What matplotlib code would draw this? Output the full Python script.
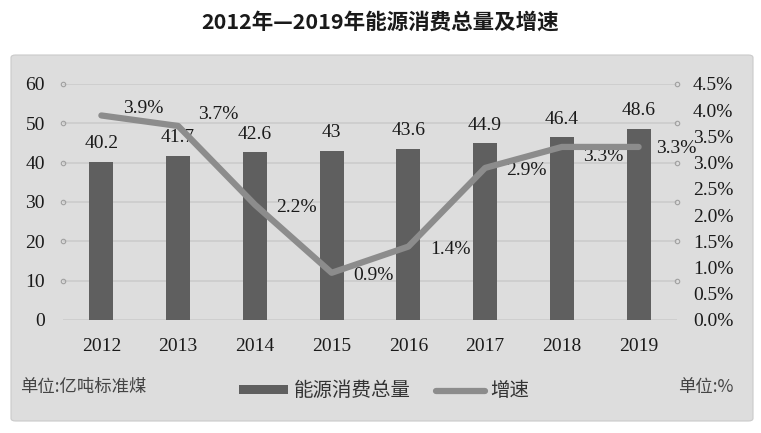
import matplotlib
matplotlib.use('Agg')
import matplotlib.pyplot as plt
from matplotlib.patches import FancyBboxPatch, Patch
from matplotlib.lines import Line2D
import numpy as np

plt.rcParams['font.family'] = ['Liberation Serif', 'Noto Sans CJK SC', 'DejaVu Sans']

# Data
years = ['2012', '2013', '2014', '2015', '2016', '2017', '2018', '2019']
consumption = [40.2, 41.7, 42.6, 43, 43.6, 44.9, 46.4, 48.6]      # 亿吨标准煤
growth = [3.9, 3.7, 2.2, 0.9, 1.4, 2.9, 3.3, 3.3]                 # %
bar_texts = ['40.2', '41.7', '42.6', '43', '43.6', '44.9', '46.4', '48.6']

# label offsets for growth labels (points)
growth_offsets = [(30, 5), (29, 8), (30, -2), (30, -2), (30, -2), (30, -2), (30, -7), (27, -1)]

bar_color = '#5f5f5f'
line_color = '#8c8c8c'
text_color = '#1a1a1a'
cjk = ['Noto Sans CJK SC', 'DejaVu Sans']

fig = plt.figure(figsize=(7.61, 4.33), dpi=100)
fig.patch.set_facecolor('white')

# gray panel
panel = FancyBboxPatch((11/761, 12/433), (753-11)/761, (421-55)/433,
                       boxstyle='round,pad=0,rounding_size=0.006',
                       transform=fig.transFigure, facecolor='#dddddd',
                       edgecolor='#cacaca', linewidth=0.8, zorder=-5)
fig.patches.append(panel)

fig.text(0.5, 1 - 22/433, '2012年—2019年能源消费总量及增速', ha='center', va='center',
         fontsize=15.5, fontweight='bold', family=cjk, color=text_color)

ax = fig.add_axes([63/761, (433-320)/433, (677-63)/761, (320-84)/433])
ax.set_facecolor('none')
x = np.arange(len(years))

bars = ax.bar(x, consumption, width=0.31, color=bar_color, zorder=3)
ax.bar_label(bars, labels=bar_texts, padding=7, fontsize=14, color=text_color)

ax.set_xlim(-0.5, len(years) - 0.5)
ax.set_ylim(0, 60)
ax.set_yticks(np.arange(0, 61, 10))
ax.set_xticks(x)
ax.set_xticklabels(years)
ax.grid(axis='y', color='#cdcdcd', linewidth=1.3, zorder=1)
ax.set_axisbelow(True)
for s in ax.spines.values():
    s.set_visible(False)
ax.tick_params(axis='y', length=0, pad=13, labelsize=14, labelcolor=text_color)
ax.tick_params(axis='x', length=0, pad=13, labelsize=14, labelcolor=text_color)

# small open circles at both ends of gridlines
ring_y = ax.get_yticks()[1:]
for xe in (0, 1):
    ax.plot([xe] * len(ring_y), ring_y, 'o', ms=3.2, mfc='none', mec='#a0a0a0', mew=0.8,
            transform=ax.get_yaxis_transform(), clip_on=False, zorder=2)

ax2 = ax.twinx()
ax2.set_ylim(0, 4.5)
ax2.set_yticks(np.arange(0, 4.51, 0.5))
ax2.set_yticklabels(['%.1f%%' % v for v in np.arange(0, 4.51, 0.5)])
ax2.tick_params(axis='y', length=0, pad=11.5, labelsize=14, labelcolor=text_color)
for s in ax2.spines.values():
    s.set_visible(False)

ax2.plot(x, growth, color=line_color, linewidth=4.5, solid_capstyle='round',
         solid_joinstyle='round', zorder=4)
for xi, g, off in zip(x, growth, growth_offsets):
    ax2.annotate('%.1f%%' % g, (xi, g), xytext=off, textcoords='offset points',
                 ha='center', va='center', fontsize=14, color=text_color)

# legend
handles = [Patch(facecolor=bar_color, edgecolor='none'),
           Line2D([0], [0], color=line_color, linewidth=4.5, solid_capstyle='round')]
fig.legend(handles, ['能源消费总量', '增速'], loc='center', bbox_to_anchor=(0.505, (433-391)/433),
           ncol=2, frameon=False, prop={'family': cjk, 'size': 14}, handlelength=2.5,
           handleheight=0.4, handletextpad=0.3, columnspacing=1.3, labelcolor='#333333')

fig.text(20/761, (433-387)/433, '单位:亿吨标准煤', ha='left', va='center', fontsize=12.5,
         family=cjk, color='#444444')
fig.text(733/761, (433-387)/433, '单位:%', ha='right', va='center', fontsize=12.5,
         family=cjk, color='#444444')

fig.savefig('out.png', dpi=100, facecolor='white')
